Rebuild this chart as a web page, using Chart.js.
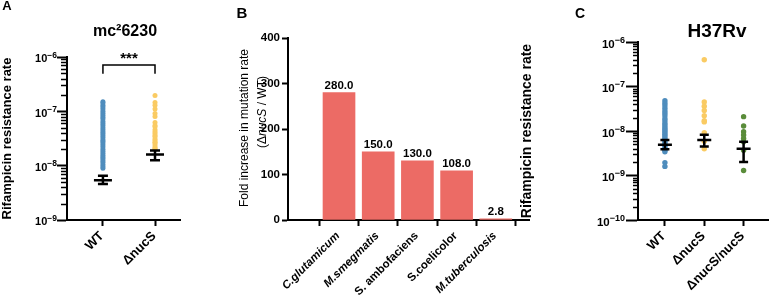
<!DOCTYPE html>
<html>
<head>
<meta charset="utf-8">
<script src="https://cdn.jsdelivr.net/npm/chart.js@4"></script>
<style>
  body { margin: 0; width: 772px; height: 296px; background: #fff; position: relative; overflow: hidden; }
  canvas { position: absolute; top: 0; }
</style>
</head>
<body>
<canvas id="chartA" width="230" height="296" style="left:0"></canvas>
<canvas id="chartB" width="300" height="296" style="left:230px"></canvas>
<canvas id="chartC" width="257" height="296" style="left:515px"></canvas>
<script>
// panel A: mc2 6230
const groupsA = ['WT', 'ΔnucS']
const wtA = [1.5e-7, 1.42e-7, 1.3e-7, 1.2e-7, 1.1e-7, 1.0e-7, 9.2e-8, 8.5e-8, 7.8e-8, 7.2e-8, 6.5e-8, 6.0e-8,
  5.5e-8, 5.0e-8, 4.6e-8, 4.2e-8, 3.9e-8, 3.6e-8, 3.3e-8, 3.0e-8, 2.8e-8, 2.6e-8, 2.4e-8, 2.2e-8, 2.0e-8,
  1.85e-8, 1.7e-8, 1.55e-8, 1.45e-8, 1.35e-8, 1.25e-8, 1.15e-8, 1.05e-8, 9.7e-9, 9.0e-9]
const nucsA = [1.95e-7, 1.45e-7, 1.3e-7, 1.1e-7, 9.1e-8, 8.0e-8, 6.2e-8, 5.5e-8, 5.2e-8, 4.6e-8, 4.2e-8,
  3.9e-8, 3.6e-8, 3.4e-8, 3.1e-8, 2.9e-8, 2.7e-8, 2.6e-8, 2.4e-8, 2.2e-8, 2.1e-8, 2.0e-8]
const meanA = [5.4e-9, 1.6e-8]
const semLowA = [4.6e-9, 1.26e-8]
const semHighA = [6.5e-9, 1.9e-8]
const bracketA = [7.1e-7, 4.9e-7]
const logTicksA = [1e-9, 1e-8, 1e-7, 1e-6]
const logExpA = ['−9', '−8', '−7', '−6']

// panel B: fold increase
const species = ['C.glutamicum', 'M.smegmatis', 'S. ambofaciens', 'S.coelicolor', 'M.tuberculosis']
const foldIncrease = [280, 150, 130, 108, 2.8]
const foldTicks = [0, 100, 200, 300, 400]

// panel C: H37Rv
const groupsC = ['WT', 'ΔnucS', 'ΔnucS/nucS']
const wtC = [4.8e-8, 4.2e-8, 3.7e-8, 3.2e-8, 2.8e-8, 2.5e-8, 2.2e-8, 1.9e-8, 1.7e-8, 1.5e-8, 1.35e-8, 1.2e-8,
  1.1e-8, 1.0e-8, 9.2e-9, 8.4e-9, 7.7e-9, 7.0e-9, 6.4e-9, 5.8e-9, 5.3e-9, 4.8e-9, 4.4e-9, 4.0e-9, 3.7e-9,
  3.4e-9, 1.95e-9, 1.6e-9]
const nucsC = [4.0e-7, 4.5e-8, 3.6e-8, 2.9e-8, 2.2e-8, 1.7e-8, 1.6e-8, 9.1e-9, 5.9e-9, 4.0e-9]
const compC = [2.1e-8, 1.3e-8, 9.6e-9, 8.1e-9, 6.8e-9, 5.7e-9, 3.7e-9, 1.3e-9]
const meanC = [4.9e-9, 6.3e-9, 4.0e-9]
const semLowC = [3.9e-9, 4.5e-9, 2.0e-9]
const semHighC = [6.3e-9, 8.2e-9, 5.7e-9]
const logTicksC = [1e-10, 1e-9, 1e-8, 1e-7, 1e-6]
const logExpC = ['−10', '−9', '−8', '−7', '−6']

const FONT = '"Liberation Sans", Arial, sans-serif'
const BLUE = '#4F8DBD'
const YELLOW = '#FACB63'
const GREEN = '#5A8C3A'
const SALMON = '#EC6B65'

// free text: panel letters, titles, rotated axis titles made of styled pieces
const textPlugin = {
  id: 'texts',
  afterDraw(chart, args, opts) {
    const ctx = chart.ctx
    ctx.save()
    ctx.fillStyle = '#000'
    ctx.textBaseline = 'middle'
    for (const t of opts.items || []) {
      const parts = t.parts || [{ text: t.text, font: t.font }]
      let total = 0
      parts.forEach((p) => { ctx.font = p.font; total += ctx.measureText(p.text).width })
      ctx.save()
      ctx.translate(t.x, t.y)
      ctx.rotate((t.rotate || 0) * Math.PI / 180)
      ctx.textAlign = 'left'
      let cx = -total / 2
      parts.forEach((p) => {
        ctx.font = p.font
        ctx.fillText(p.text, cx, 0)
        cx += ctx.measureText(p.text).width
      })
      ctx.restore()
    }
    ctx.restore()
  }
}

// x category names, slanted 45 degrees and ending at their tick
const slantLabelPlugin = {
  id: 'slantLabels',
  afterDraw(chart, args, opts) {
    if (!opts.labels) return
    const x = chart.scales.x
    const ctx = chart.ctx
    const base = chart.chartArea.bottom
    ctx.save()
    ctx.fillStyle = '#000'
    ctx.textAlign = 'right'
    ctx.textBaseline = 'middle'
    opts.labels.forEach((label, i) => {
      ctx.save()
      ctx.translate(x.getPixelForValue(i) - 1, base + 14)
      ctx.rotate(-Math.PI / 4)
      ctx.font = opts.fonts[i]
      ctx.fillText(label, 0, 0)
      ctx.restore()
    })
    ctx.restore()
  }
}

// log axis: minor ticks and "10" labels with raised exponents
const logAxisPlugin = {
  id: 'logAxis',
  afterDraw(chart, args, opts) {
    if (!opts.values) return
    const y = chart.scales.y
    const ctx = chart.ctx
    const x0 = chart.chartArea.left
    ctx.save()
    ctx.strokeStyle = '#000'
    ctx.lineWidth = 1.5
    for (let e = Math.log10(y.min); e < Math.log10(y.max) - 0.5; e++) {
      for (let k = 2; k <= 9; k++) {
        const py = Math.round(y.getPixelForValue(k * Math.pow(10, Math.round(e)))) + 0.5
        ctx.beginPath()
        ctx.moveTo(x0 - 1, py)
        ctx.lineTo(x0 - opts.minorLen, py)
        ctx.stroke()
      }
    }
    ctx.fillStyle = '#000'
    ctx.textAlign = 'right'
    ctx.textBaseline = 'alphabetic'
    opts.values.forEach((v, i) => {
      const py = y.getPixelForValue(v)
      const right = x0 - opts.gap
      ctx.font = 'bold ' + opts.expSize + 'px ' + FONT
      const w = ctx.measureText(opts.exps[i]).width
      ctx.fillText(opts.exps[i], right, py + 0.5)
      ctx.font = 'bold ' + opts.baseSize + 'px ' + FONT
      ctx.fillText('10', right - w, py + opts.baseSize * 0.36 + 1.5)
    })
    ctx.restore()
  }
}

// mean line with SEM error bar for each group
const meanSemPlugin = {
  id: 'meanSem',
  afterDatasetsDraw(chart, args, opts) {
    if (!opts.means) return
    const { x, y } = chart.scales
    const ctx = chart.ctx
    ctx.save()
    ctx.strokeStyle = '#000'
    ctx.lineWidth = 2.5
    opts.means.forEach((m, i) => {
      const px = x.getPixelForValue(i)
      const pm = y.getPixelForValue(m)
      const pl = y.getPixelForValue(opts.lows[i])
      const ph = y.getPixelForValue(opts.highs[i])
      ctx.beginPath()
      ctx.moveTo(px - opts.meanHalf, pm); ctx.lineTo(px + opts.meanHalf, pm)
      ctx.moveTo(px, pl); ctx.lineTo(px, ph)
      ctx.moveTo(px - opts.capHalf, pl); ctx.lineTo(px + opts.capHalf, pl)
      ctx.moveTo(px - opts.capHalf, ph); ctx.lineTo(px + opts.capHalf, ph)
      ctx.stroke()
    })
    ctx.restore()
  }
}

// significance bracket between the two groups of panel A
const bracketPlugin = {
  id: 'bracket',
  afterDraw(chart, args, opts) {
    if (!opts.levels) return
    const { x, y } = chart.scales
    const ctx = chart.ctx
    const x0 = x.getPixelForValue(0)
    const x1 = x.getPixelForValue(1)
    const top = y.getPixelForValue(opts.levels[0])
    const leg = y.getPixelForValue(opts.levels[1])
    ctx.save()
    ctx.strokeStyle = '#000'
    ctx.lineWidth = 1.5
    ctx.beginPath()
    ctx.moveTo(x0, leg); ctx.lineTo(x0, top); ctx.lineTo(x1, top); ctx.lineTo(x1, leg)
    ctx.stroke()
    ctx.fillStyle = '#000'
    ctx.font = 'bold 15px ' + FONT
    ctx.textAlign = 'center'
    ctx.fillText(opts.label, (x0 + x1) / 2, top - 2)
    ctx.restore()
  }
}

// value labels over the bars of panel B
const barValuePlugin = {
  id: 'barValues',
  afterDatasetsDraw(chart, args, opts) {
    if (!opts.show) return
    const ctx = chart.ctx
    const meta = chart.getDatasetMeta(0)
    ctx.save()
    ctx.fillStyle = '#000'
    ctx.font = 'bold 11.5px ' + FONT
    ctx.textAlign = 'center'
    ctx.textBaseline = 'alphabetic'
    meta.data.forEach((bar, i) => {
      ctx.fillText(foldIncrease[i].toFixed(1), bar.x, bar.y - 4)
    })
    ctx.restore()
  }
}

Chart.defaults.font.family = FONT
Chart.defaults.color = '#000'

function logAxis(ticks, width, titleSize, majorLen) {
  return {
    type: 'logarithmic',
    min: ticks[0],
    max: ticks[ticks.length - 1],
    afterBuildTicks: (s) => { s.ticks = ticks.map((v) => ({ value: v })) },
    afterFit: (s) => { s.width = width },
    ticks: { display: false },
    grid: { drawOnChartArea: false, tickLength: majorLen, tickWidth: 2, tickColor: '#000' },
    border: { color: '#000', width: 2 },
    title: {
      display: true,
      text: 'Rifampicin resistance rate',
      color: '#000',
      padding: 0,
      font: { size: titleSize, weight: 'bold' }
    }
  }
}

function groupAxis(groups, min, max) {
  return {
    type: 'linear',
    min,
    max,
    afterBuildTicks: (s) => { s.ticks = groups.map((g, i) => ({ value: i })) },
    afterFit: (s) => { s.height = 76 },
    ticks: { display: false },
    grid: { drawOnChartArea: false, tickLength: 6, tickWidth: 2, tickColor: '#000' },
    border: { color: '#000', width: 2 }
  }
}

function dots(values, idx, color, r) {
  return {
    data: values.map((v) => ({ x: idx, y: v })),
    backgroundColor: color,
    borderColor: color,
    borderWidth: 0,
    pointRadius: r
  }
}

const baseOptions = {
  responsive: false,
  animation: false,
  devicePixelRatio: 1,
  events: []
}

const groupFont = 'bold 13px ' + FONT

new Chart(document.getElementById('chartA'), {
  type: 'scatter',
  data: {
    datasets: [dots(wtA, 0, BLUE, 2.5), dots(nucsA, 1, YELLOW, 2.5)]
  },
  options: {
    ...baseOptions,
    layout: { padding: { left: 0, top: 57, right: 50, bottom: 0 } },
    scales: {
      x: groupAxis(groupsA, -0.69, 1.48),
      y: logAxis(logTicksA, 67, 13, 10)
    },
    plugins: {
      legend: { display: false },
      tooltip: { enabled: false },
      logAxis: { values: logTicksA, exps: logExpA, gap: 10, baseSize: 11, expSize: 8.5, minorLen: 6 },
      meanSem: { means: meanA, lows: semLowA, highs: semHighA, meanHalf: 9, capHalf: 5 },
      bracket: { levels: bracketA, label: '***' },
      slantLabels: { labels: groupsA, fonts: groupsA.map(() => groupFont) },
      texts: {
        items: [
          { text: 'A', x: 7, y: 6, font: 'bold 13px ' + FONT },
          { text: 'mc²6230', x: 125, y: 32, font: 'bold 16px ' + FONT }
        ]
      }
    }
  },
  plugins: [logAxisPlugin, meanSemPlugin, bracketPlugin, slantLabelPlugin, textPlugin]
})

const speciesFonts = [
  'italic bold 11.5px ' + FONT,
  'italic bold 11.5px ' + FONT,
  'bold 11.5px ' + FONT,
  'bold 11.5px ' + FONT,
  'italic bold 11.5px ' + FONT
]

new Chart(document.getElementById('chartB'), {
  type: 'bar',
  data: {
    datasets: [{
      data: foldIncrease.map((v, i) => ({ x: i, y: v })),
      backgroundColor: SALMON,
      borderWidth: 0,
      barThickness: 32
    }]
  },
  options: {
    ...baseOptions,
    layout: { padding: { left: 0, top: 38, right: 0, bottom: 0 } },
    scales: {
      x: groupAxis(species, -0.684, 4.255),
      y: {
        type: 'linear',
        min: 0,
        max: 400,
        afterBuildTicks: (s) => { s.ticks = foldTicks.map((v) => ({ value: v })) },
        afterFit: (s) => { s.width = 58 },
        ticks: { padding: 2, color: '#000', font: { size: 11.5, weight: 'bold' } },
        grid: { drawOnChartArea: false, tickLength: 6, tickWidth: 2, tickColor: '#000' },
        border: { color: '#000', width: 2 }
      }
    },
    plugins: {
      legend: { display: false },
      tooltip: { enabled: false },
      barValues: { show: true },
      slantLabels: { labels: species, fonts: speciesFonts },
      texts: {
        items: [
          { text: 'B', x: 12, y: 14, font: 'bold 15px ' + FONT },
          { text: 'Fold increase in mutation rate', x: 15, y: 128, rotate: -90, font: '12px ' + FONT },
          {
            x: 33, y: 112, rotate: -90,
            parts: [
              { text: '(Δ', font: '12px ' + FONT },
              { text: 'nucS', font: 'italic 12px ' + FONT },
              { text: ' / WT)', font: '12px ' + FONT }
            ]
          }
        ]
      }
    }
  },
  plugins: [barValuePlugin, slantLabelPlugin, textPlugin]
})

new Chart(document.getElementById('chartC'), {
  type: 'scatter',
  data: {
    datasets: [dots(wtC, 0, BLUE, 2.7), dots(nucsC, 1, YELLOW, 2.7), dots(compC, 2, GREEN, 2.7)]
  },
  options: {
    ...baseOptions,
    layout: { padding: { left: 4, top: 42, right: 0, bottom: 0 } },
    scales: {
      x: groupAxis(groupsC, -0.684, 2.62),
      y: logAxis(logTicksC, 119, 14, 12)
    },
    plugins: {
      legend: { display: false },
      tooltip: { enabled: false },
      logAxis: { values: logTicksC, exps: logExpC, gap: 13, baseSize: 11.5, expSize: 9, minorLen: 5 },
      meanSem: { means: meanC, lows: semLowC, highs: semHighC, meanHalf: 7, capHalf: 4.5 },
      slantLabels: { labels: groupsC, fonts: groupsC.map(() => groupFont) },
      texts: {
        items: [
          { text: 'C', x: 65, y: 14, font: 'bold 14px ' + FONT },
          { text: 'H37Rv', x: 202, y: 32, font: 'bold 19px ' + FONT }
        ]
      }
    }
  },
  plugins: [logAxisPlugin, meanSemPlugin, slantLabelPlugin, textPlugin]
})
</script>
</body>
</html>
